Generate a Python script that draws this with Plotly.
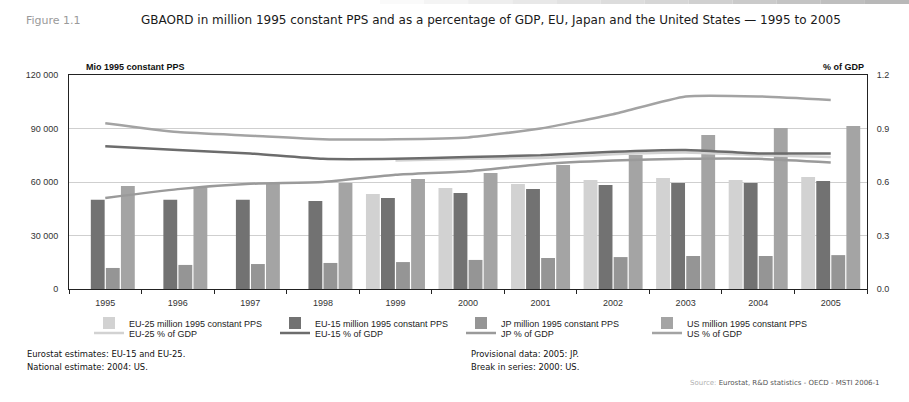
import plotly.graph_objects as go

# ---------------- data ----------------
years = ["1995", "1996", "1997", "1998", "1999", "2000", "2001", "2002", "2003", "2004", "2005"]

eu25_pps = [None, None, None, None, 53300, 56600, 58900, 61100, 62200, 61100, 62800]
eu15_pps = [50000, 50000, 50000, 49300, 51000, 53800, 56100, 58300, 59400, 59400, 60600]
jp_pps = [11800, 13500, 14000, 14600, 15100, 16300, 17400, 17900, 18500, 18500, 19000]
us_pps = [57800, 57000, 58900, 59400, 61700, 65000, 69500, 75100, 86300, 90300, 91400]

eu25_gdp = [None, None, None, None, 0.72, 0.73, 0.735, 0.755, 0.765, 0.75, 0.74]
eu15_gdp = [0.80, 0.78, 0.76, 0.73, 0.73, 0.74, 0.75, 0.77, 0.78, 0.76, 0.76]
jp_gdp = [0.51, 0.56, 0.59, 0.60, 0.64, 0.66, 0.70, 0.72, 0.73, 0.73, 0.71]
us_gdp = [0.93, 0.88, 0.86, 0.84, 0.84, 0.85, 0.90, 0.98, 1.08, 1.08, 1.06]

left_tickvals = [0, 30000, 60000, 90000, 120000]
left_ticktext = ["0", "30 000", "60 000", "90 000", "120 000"]
right_tickvals = [0, 0.3, 0.6, 0.9, 1.2]
right_ticktext = ["0.0", "0.3", "0.6", "0.9", "1.2"]

bar_names = ["EU-25 million 1995 constant PPS", "EU-15 million 1995 constant PPS",
             "JP million 1995 constant PPS", "US million 1995 constant PPS"]
line_names = ["EU-25 % of GDP", "EU-15 % of GDP", "JP % of GDP", "US % of GDP"]

bar_colors = ["#d2d2d2", "#727272", "#959595", "#a4a4a4"]
line_colors = ["#d2d2d2", "#6c6c6c", "#9a9a9a", "#a3a3a3"]

# ---------------- layout geometry ----------------
W, H = 909, 402
L, R, T, B = 69, 867, 75, 289
PW, PH = R - L, B - T


def px(x):
    return (x - L) / PW


def py(y):
    return (B - y) / PH


FONT = "Liberation Sans, Arial, sans-serif"
TFONT = "DejaVu Sans, sans-serif"

fig = go.Figure()

for name, vals, col in zip(bar_names, [eu25_pps, eu15_pps, jp_pps, us_pps], bar_colors):
    fig.add_trace(go.Bar(x=years, y=vals, name=name, marker=dict(color=col, line=dict(width=0)),
                         legend="legend", yaxis="y"))

for name, vals, col in zip(line_names, [eu25_gdp, eu15_gdp, jp_gdp, us_gdp], line_colors):
    fig.add_trace(go.Scatter(x=years, y=vals, name=name, mode="lines",
                             line=dict(color=col, width=2.5, shape="spline", smoothing=0.5),
                             legend="legend2", yaxis="y2", connectgaps=False))

annotations = [
    dict(text="Figure 1.1", x=px(24), y=py(20), xanchor="left", yanchor="middle",
         font=dict(family=TFONT, size=11, color="#9a9a9a")),
    dict(text="GBAORD in million 1995 constant PPS and as a percentage of GDP, EU, Japan and the United States \u2014 1995 to 2005",
         x=px(139), y=py(20), xanchor="left", yanchor="middle",
         font=dict(family=TFONT, size=12, color="#1a1a1a")),
    dict(text="<b>Mio 1995 constant PPS</b>", x=px(84), y=py(67), xanchor="left", yanchor="middle",
         font=dict(family=FONT, size=9, color="#111")),
    dict(text="<b>% of GDP</b>", x=px(866), y=py(67), xanchor="right", yanchor="middle",
         font=dict(family=FONT, size=9, color="#111")),
    dict(text="Eurostat estimates: EU-15 and EU-25.", x=px(25), y=py(354), xanchor="left", yanchor="middle",
         font=dict(family=TFONT, size=8.4, color="#111")),
    dict(text="National estimate: 2004: US.", x=px(25), y=py(367), xanchor="left", yanchor="middle",
         font=dict(family=TFONT, size=8.4, color="#111")),
    dict(text="Provisional data: 2005: JP.", x=px(469), y=py(354), xanchor="left", yanchor="middle",
         font=dict(family=TFONT, size=8.4, color="#111")),
    dict(text="Break in series: 2000: US.", x=px(469), y=py(367), xanchor="left", yanchor="middle",
         font=dict(family=TFONT, size=8.4, color="#111")),
    dict(text="<span style='color:#b0b0b0'>Source:</span> Eurostat, R&amp;D statistics - OECD - MSTI 2006-1",
         x=px(882), y=py(383), xanchor="right", yanchor="middle",
         font=dict(family=TFONT, size=7, color="#555")),
]
for a in annotations:
    a.update(xref="paper", yref="paper", showarrow=False)

# top gradient band
shapes = []
nseg = 12
for i in range(nseg):
    x0 = 380 + i * (W - 380) / nseg
    x1 = 380 + (i + 1) * (W - 380) / nseg
    g = int(250 - i * 6)
    shapes.append(dict(type="rect", xref="paper", yref="paper", x0=px(x0), x1=px(x1),
                       y0=py(4), y1=py(0), line=dict(width=0),
                       fillcolor=f"rgb({g},{g},{g})", layer="below"))

fig.update_layout(
    width=W, height=H, autosize=False,
    margin=dict(l=L, r=W - R, t=T, b=H - B, pad=0),
    paper_bgcolor="white", plot_bgcolor="white",
    barmode="group", bargap=0.17, bargroupgap=0.08,
    font=dict(family=FONT, size=9, color="#333"),
    xaxis=dict(type="category", showline=True, linecolor="#222", linewidth=1, mirror=True,
               ticks="outside", tickson="boundaries", ticklen=4, tickcolor="#222",
               ticklabelstandoff=5,
               showgrid=False, tickfont=dict(size=9, color="#333"), fixedrange=True),
    yaxis=dict(range=[0, 120000], tickvals=left_tickvals, ticktext=left_ticktext,
               showline=True, linecolor="#222", linewidth=1, ticks="", ticklabelstandoff=8,
               showgrid=True, gridcolor="#cfcfcf", gridwidth=1, zeroline=False,
               tickfont=dict(size=9, color="#333")),
    yaxis2=dict(range=[0, 1.2], tickvals=right_tickvals, ticktext=right_ticktext,
                overlaying="y", side="right", showline=True, linecolor="#222", linewidth=1,
                ticks="", showgrid=False, zeroline=False, ticklabelstandoff=7,
                tickfont=dict(size=9, color="#333")),
    legend=dict(orientation="h", x=px(89), y=py(323), xanchor="left", yanchor="middle",
                entrywidth=141, entrywidthmode="pixels", bgcolor="rgba(0,0,0,0)",
                font=dict(size=9, color="#222"), itemclick=False, tracegroupgap=0),
    legend2=dict(orientation="h", x=px(89), y=py(333), xanchor="left", yanchor="middle",
                 entrywidth=141, entrywidthmode="pixels", bgcolor="rgba(0,0,0,0)",
                 font=dict(size=9, color="#222"), itemclick=False, tracegroupgap=0),
    annotations=annotations,
    shapes=shapes,
    showlegend=True,
)

fig.write_html("out.html", config={"displayModeBar": False},
               post_script="document.body.style.margin='0px';")
